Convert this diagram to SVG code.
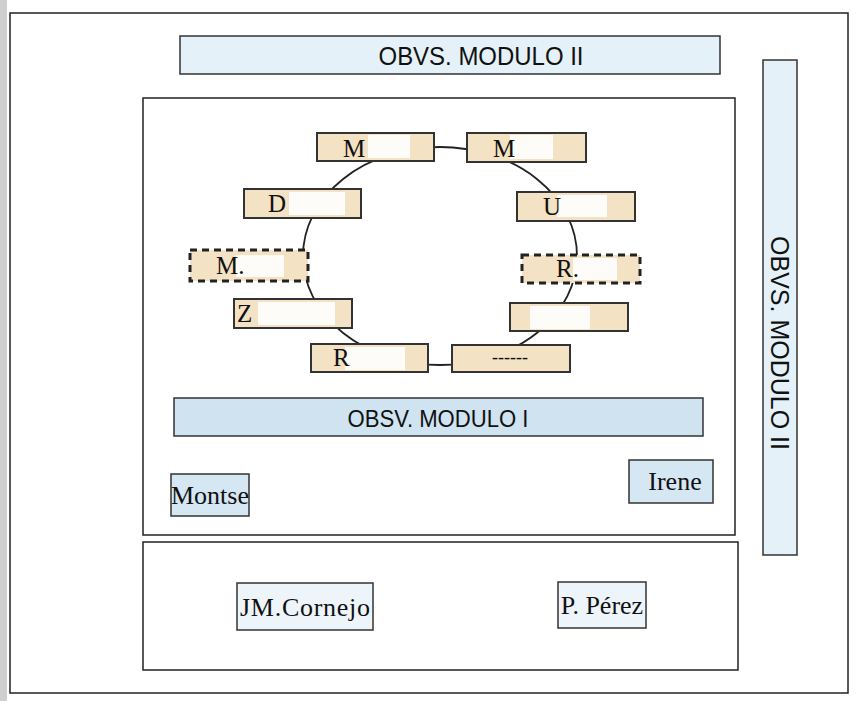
<svg xmlns="http://www.w3.org/2000/svg" width="859" height="701" viewBox="0 0 859 701">
<style>
.frame{fill:#fff;stroke:#222;stroke-width:1.5}
.ban{fill:#e4f1f8;stroke:#333;stroke-width:1.5}
.ban2{fill:#cfe3f1;stroke:#333;stroke-width:1.5}
.nb{fill:#f3e2c4;stroke:#333;stroke-width:2}
.nd{fill:#f3e2c4;stroke:#222;stroke-width:3;stroke-dasharray:7,5}
.pb{fill:#d5e7f3;stroke:#333;stroke-width:1.5}
.pw{fill:#edf5fa;stroke:#333;stroke-width:1.5}
.patch{fill:#fdfcf9}
.sans{font-family:"Liberation Sans",Arial,sans-serif;fill:#111}
.serif{font-family:"Liberation Serif","Times New Roman",serif;fill:#111}
.lab{font-size:25px}
.per{font-size:26px}
.conn{fill:none;stroke:#222;stroke-width:1.8}
</style>
<rect x="0" y="0" width="859" height="701" fill="#fff"/>
<rect x="0" y="0" width="7" height="701" fill="#cfcfcf"/>
<g id="outer"><rect class="frame" x="10" y="13" width="838" height="680"/></g>
<g id="top-banner"><rect class="ban" x="180" y="36" width="540" height="38"/><text class="sans" x="481" y="65" font-size="25" text-anchor="middle" textLength="205" lengthAdjust="spacingAndGlyphs">OBVS. MODULO II</text></g>
<g id="right-banner"><rect class="ban" x="763" y="60" width="34" height="495"/><text class="sans" transform="translate(771,343) rotate(90)" font-size="25" text-anchor="middle" textLength="214" lengthAdjust="spacingAndGlyphs">OBVS. MODULO II</text></g>
<g id="middle-box"><rect class="frame" x="143" y="98" width="592" height="437"/></g>
<g id="bottom-box"><rect class="frame" x="143" y="542" width="595" height="128"/></g>
<g id="connectors">
<ellipse class="conn" cx="440" cy="256" rx="137" ry="109"/>
</g>
<g id="n-m1"><rect class="nb" x="317" y="133" width="117" height="28"/><rect class="patch" x="368" y="135" width="42" height="23"/><text class="serif lab" x="343" y="157">M</text></g>
<g id="n-m2"><rect class="nb" x="467" y="133" width="119" height="29"/><rect class="patch" x="510" y="135" width="43" height="24"/><text class="serif lab" x="493" y="157">M</text></g>
<g id="n-d"><rect class="nb" x="244" y="189" width="117" height="29"/><rect class="patch" x="289" y="192" width="56" height="23"/><text class="serif lab" x="268" y="212">D</text></g>
<g id="n-u"><rect class="nb" x="517" y="192" width="118" height="29"/><rect class="patch" x="557" y="195" width="50" height="22"/><text class="serif lab" x="543" y="215">U</text></g>
<g id="n-m3"><rect class="nd" x="190" y="250" width="118" height="31"/><rect class="patch" x="236" y="255" width="48" height="22"/><text class="serif lab" x="216" y="274">M.</text></g>
<g id="n-r1"><rect class="nd" x="522" y="255" width="118" height="28"/><rect class="patch" x="573" y="258" width="44" height="22"/><text class="serif lab" x="556" y="277">R.</text></g>
<g id="n-z"><rect class="nb" x="234" y="299" width="118" height="29"/><rect class="patch" x="258" y="302" width="77" height="23"/><text class="serif lab" x="237" y="322">Z</text></g>
<g id="n-f"><rect class="nb" x="510" y="303" width="118" height="28"/><rect class="patch" x="530" y="306" width="60" height="23"/></g>
<g id="n-r2"><rect class="nb" x="311" y="344" width="117" height="28"/><rect class="patch" x="345" y="347" width="60" height="23"/><text class="serif lab" x="333" y="366">R</text></g>
<g id="n-dash"><rect class="nb" x="452" y="345" width="118" height="27"/><text class="serif" x="510" y="363" font-size="18" text-anchor="middle">------</text></g>
<g id="mod1"><rect class="ban2" x="174" y="398" width="529" height="38"/><text class="sans" x="438" y="427" font-size="24" text-anchor="middle" textLength="181" lengthAdjust="spacingAndGlyphs">OBSV. MODULO I</text></g>
<g id="montse"><rect class="pb" x="171" y="474" width="78" height="42"/><text class="serif per" x="210" y="504" text-anchor="middle">Montse</text></g>
<g id="irene"><rect class="pb" x="629" y="460" width="84" height="43"/><text class="serif per" x="675" y="490" text-anchor="middle">Irene</text></g>
<g id="cornejo"><rect class="pw" x="237" y="583" width="136" height="47"/><text class="serif per" x="305" y="616" text-anchor="middle" textLength="130">JM.Cornejo</text></g>
<g id="perez"><rect class="pw" x="558" y="582" width="88" height="46"/><text class="serif per" x="602" y="614" text-anchor="middle">P. Pérez</text></g>
</svg>
